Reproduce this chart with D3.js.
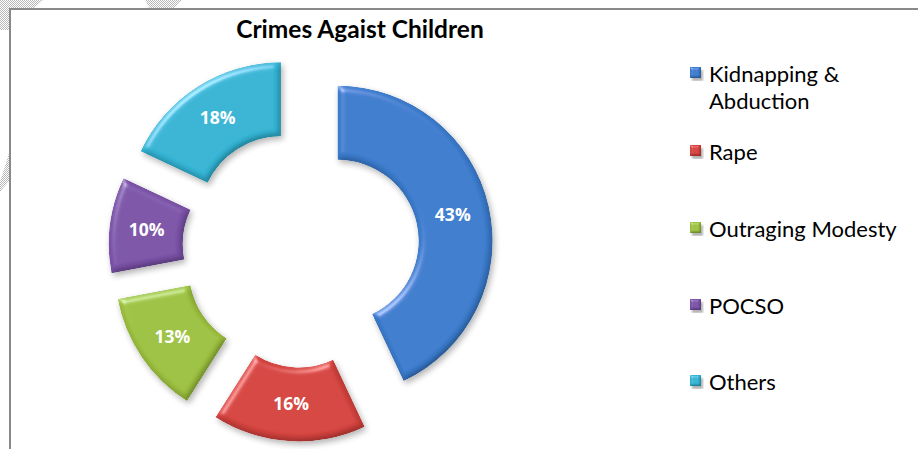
<!DOCTYPE html>
<html>
<head>
<meta charset="utf-8">
<script src="https://cdn.jsdelivr.net/npm/d3@7"></script>
<style>
  body { margin: 0; background: #fff; }
  svg { display: block; }
</style>
</head>
<body>
<svg id="chart" width="918" height="449"></svg>
<script>
// chart data
var title = 'Crimes Agaist Children';
var categories = ['Kidnapping & Abduction', 'Rape', 'Outraging Modesty', 'POCSO', 'Others'];
var values = [43, 16, 13, 10, 18];
var colors = ['#3b7bcc', '#d3423e', '#9cc03f', '#7b52a7', '#33b3d3'];
var legendLines = [['Kidnapping &', 'Abduction'], ['Rape'], ['Outraging Modesty'], ['POCSO'], ['Others']];

var svg = d3.select('#chart');
var defs = svg.append('defs');

// dotted hatch for the background scraps at the top left
var pat = defs.append('pattern').attr('id', 'dots')
  .attr('width', 2).attr('height', 2).attr('patternUnits', 'userSpaceOnUse');
pat.append('rect').attr('width', 1).attr('height', 1).attr('fill', '#b8b8b8');
pat.append('rect').attr('x', 1).attr('y', 1).attr('width', 1).attr('height', 1).attr('fill', '#b8b8b8');

// bevel look: light on blurred alpha + soft shadow
function bevel(id, std, scale) {
  var f = defs.append('filter').attr('id', id)
    .attr('x', '-15%').attr('y', '-15%').attr('width', '140%').attr('height', '140%');
  f.append('feGaussianBlur').attr('in', 'SourceAlpha').attr('stdDeviation', std).attr('result', 'blur');
  var spec = f.append('feSpecularLighting').attr('in', 'blur').attr('surfaceScale', scale)
    .attr('specularConstant', 0.8).attr('specularExponent', 28)
    .attr('lighting-color', '#ffffff').attr('result', 'spec');
  spec.append('feDistantLight').attr('azimuth', 235).attr('elevation', 35);
  f.append('feComposite').attr('in', 'spec').attr('in2', 'SourceAlpha').attr('operator', 'in').attr('result', 'specIn');
  var dif = f.append('feDiffuseLighting').attr('in', 'blur').attr('surfaceScale', scale)
    .attr('diffuseConstant', 1).attr('lighting-color', '#ffffff').attr('result', 'dif');
  dif.append('feDistantLight').attr('azimuth', 235).attr('elevation', 60);
  f.append('feComposite').attr('in', 'SourceGraphic').attr('in2', 'dif')
    .attr('operator', 'arithmetic').attr('k1', 0.8).attr('k2', 0.32).attr('k3', 0).attr('k4', 0).attr('result', 'lit');
  f.append('feComposite').attr('in', 'lit').attr('in2', 'specIn')
    .attr('operator', 'arithmetic').attr('k1', 0).attr('k2', 1).attr('k3', 0.45).attr('k4', 0).attr('result', 'shaded');
  f.append('feComposite').attr('in', 'shaded').attr('in2', 'SourceAlpha').attr('operator', 'in').attr('result', 'final');
  f.append('feOffset').attr('in', 'blur').attr('dx', 2).attr('dy', 3).attr('result', 'offBlur');
  f.append('feComponentTransfer').attr('in', 'offBlur').attr('result', 'shadow')
    .append('feFuncA').attr('type', 'linear').attr('slope', 0.3);
  var merge = f.append('feMerge');
  merge.append('feMergeNode').attr('in', 'shadow');
  merge.append('feMergeNode').attr('in', 'final');
}
bevel('bevel', 3, 4);
bevel('bevelSmall', 1, 2);

// background scraps and frame
svg.append('path').attr('d', 'M0,0 L43,0 L10,30 L0,30 Z').attr('fill', 'url(#dots)');
svg.append('path').attr('d', 'M145,0 L182,0 L173,9 L150,9 Z').attr('fill', 'url(#dots)');
svg.append('path').attr('d', 'M0,182 L10,150 L10,180 L0,192 Z').attr('fill', 'url(#dots)');
svg.append('rect').attr('x', 10).attr('y', 9).attr('width', 930).attr('height', 460)
  .attr('fill', '#fff').attr('stroke', '#898989').attr('stroke-width', 2);

// title
svg.append('text')
  .attr('x', 360).attr('y', 38)
  .attr('text-anchor', 'middle')
  .style('font-family', 'Lato, sans-serif')
  .style('font-weight', 'bold')
  .style('font-size', '24.5px')
  .attr('fill', '#000')
  .text(title);

// exploded donut
var cx = 301, cy = 249, explode = 37.5;
var pie = d3.pie().sort(null).value(function (d) { return d; });
var arc = d3.arc().innerRadius(81).outerRadius(155);
var arcs = pie(values);
var total = d3.sum(values);

var g = svg.append('g').attr('transform', 'translate(' + cx + ',' + cy + ')');

var slices = g.selectAll('g.slice')
  .data(arcs)
  .enter()
  .append('g')
  .attr('class', 'slice')
  .attr('transform', function (d) {
    var a = (d.startAngle + d.endAngle) / 2;
    return 'translate(' + explode * Math.sin(a) + ',' + -explode * Math.cos(a) + ')';
  });

slices.append('path')
  .attr('d', arc)
  .attr('fill', function (d, i) { return colors[i]; })
  .attr('filter', 'url(#bevel)');

slices.append('text')
  .attr('transform', function (d) { return 'translate(' + arc.centroid(d) + ')'; })
  .attr('dy', '0.35em')
  .attr('text-anchor', 'middle')
  .style('font-family', '"Open Sans", sans-serif')
  .style('font-weight', 'bold')
  .style('font-size', '17.5px')
  .attr('fill', '#fff')
  .text(function (d) { return Math.round(d.value / total * 100) + '%'; });

// legend
var legendY = [82, 160, 237, 314, 390];
var legend = svg.selectAll('g.legend')
  .data(categories)
  .enter()
  .append('g')
  .attr('class', 'legend')
  .attr('transform', function (d, i) { return 'translate(690,' + legendY[i] + ')'; });

legend.append('rect')
  .attr('x', 0).attr('y', -15).attr('width', 11).attr('height', 11)
  .attr('fill', function (d, i) { return colors[i]; })
  .attr('filter', 'url(#bevelSmall)');

legend.append('text')
  .attr('x', 19)
  .style('font-family', 'Lato, sans-serif')
  .style('font-size', '22px')
  .attr('fill', '#000')
  .selectAll('tspan')
  .data(function (d, i) { return legendLines[i]; })
  .enter()
  .append('tspan')
  .attr('x', 19)
  .attr('dy', function (d, j) { return j === 0 ? 0 : 27; })
  .text(function (d) { return d; });
</script>
</body>
</html>
